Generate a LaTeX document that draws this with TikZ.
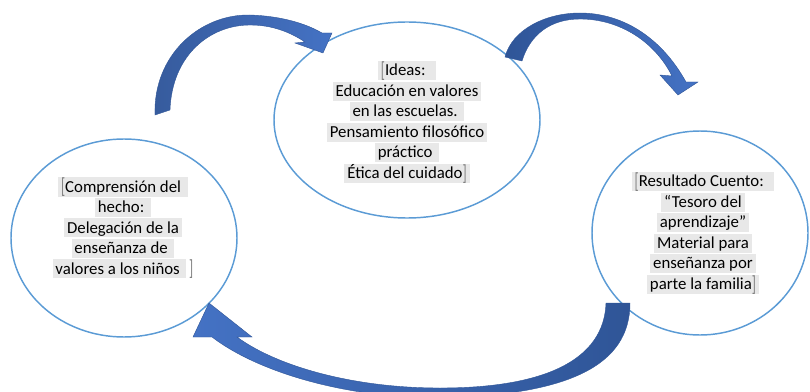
\documentclass[tikz,border=0pt]{standalone}
\usepackage{fontspec}
\setmainfont{Carlito}
\usetikzlibrary{positioning,shapes.geometric}

\definecolor{borde}{HTML}{5B9BD5}
\definecolor{flechaclara}{HTML}{4472C4}
\definecolor{flechaoscura}{HTML}{2F5597}
\definecolor{resalte}{HTML}{E8E8E8}
\definecolor{corchete}{HTML}{808080}

\setlength{\fboxsep}{0pt}
\newcommand{\resaltar}[1]{\colorbox{resalte}{\rule[-3.2pt]{0pt}{14.3pt}\,#1\,}}
\newcommand{\abre}{\textcolor{corchete}{\raisebox{-1.2pt}{\scalebox{0.8}[1.3]{[}}}}
\newcommand{\cierra}{\textcolor{corchete}{\raisebox{-1.2pt}{\scalebox{0.8}[1.3]{]}}}}

\begin{document}
\begin{tikzpicture}[x=0.75pt, y=-0.75pt,
  burbuja/.style={ellipse, draw=borde, line width=1.1pt, inner sep=0pt},
  texto/.style={align=center, inner sep=0pt, font=\fontsize{12.6}{15.4}\selectfont},
  flecha/.style={draw=flechaoscura, line width=0.3pt}]
\useasboundingbox (0,0) rectangle (810,392);
\clip (0,0) rectangle (810,392);

% circulos
\node[burbuja, minimum width=169.5pt, minimum height=148.5pt] (hecho) at (124,238) {};
\node[burbuja, minimum width=199.5pt, minimum height=147pt] (ideas) at (407,120) {};
\node[burbuja, minimum width=162pt, minimum height=153pt] (cuento) at (700,233) {};

% textos
\node[texto] (thecho) at (123,228) {%
  \resaltar{\abre Comprensión del\ }\\
  \resaltar{hecho:\ }\\
  \resaltar{Delegación de la}\\
  \resaltar{enseñanza de\ }\\
  \resaltar{valores a los niños\ }\,\cierra};
\node[texto] (tideas) at (407,122) {%
  \resaltar{\abre Ideas:\ \ }\\
  \resaltar{Educación en valores}\\
  \resaltar{en las escuelas.\ }\\
  \resaltar{Pensamiento filosófico}\\
  \resaltar{práctico\ }\\
  \resaltar{Ética del cuidado\cierra}};
\node[texto] (tcuento) at (703,233) {%
  \resaltar{\abre Resultado Cuento:\ \ }\\
  \resaltar{“Tesoro del}\\
  \resaltar{aprendizaje”}\\
  \resaltar{Material para}\\
  \resaltar{enseñanza por}\\
  \resaltar{parte la familia\cierra}};

% flechas curvas
\path[flecha, left color=flechaclara!80!black, right color=flechaclara]
  (155,115) .. controls (153,55) and (200,14) .. (250,15)
  .. controls (280,16) and (305,23) .. (322,33)
  -- (332,33) -- (323,53) -- (295,43) -- (305,42)
  .. controls (290,32) and (272,25) .. (250,25)
  .. controls (210,25) and (172,55) .. (170,110) -- cycle;
\path[flecha, left color=flechaoscura, right color=flechaclara]
  (505,57) .. controls (512,30) and (545,13) .. (580,13)
  .. controls (620,13) and (660,35) .. (686,82)
  -- (698,82) -- (678,95) -- (660,75) -- (672,76)
  .. controls (655,42) and (620,19) .. (580,19)
  .. controls (550,19) and (530,35) .. (522,61) -- cycle;
\path[flecha, left color=flechaclara, right color=flechaoscura]
  (630,303) .. controls (630,365) and (570,395) .. (440,398)
  .. controls (340,398) and (255,370) .. (212,337)
  -- (193,337) -- (209,303) -- (252,337) -- (237,337)
  .. controls (275,365) and (350,388) .. (440,388)
  .. controls (545,388) and (604,360) .. (606,303) -- cycle;
\end{tikzpicture}
\end{document}
